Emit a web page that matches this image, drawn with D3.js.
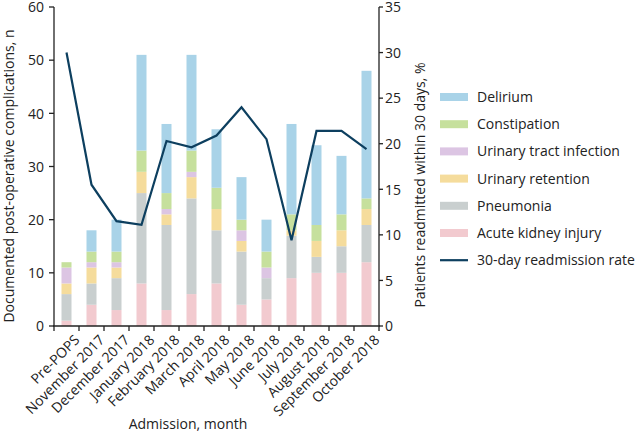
<!DOCTYPE html>
<html><head><meta charset="utf-8">
<script src="https://cdn.jsdelivr.net/npm/d3@7"></script>
<style>body{margin:0;background:#fff;} svg{display:block;} text{font-family:"Open Sans",sans-serif;fill:#222;}</style>
</head><body><svg id="c" width="639" height="432"></svg>
<script>
const categories = ["Pre-POPS","November 2017","December 2017","January 2018","February 2018","March 2018","April 2018","May 2018","June 2018","July 2018","August 2018","September 2018","October 2018"];
const acuteKidneyInjury = [1,4,3,8,3,6,8,4,5,9,10,10,12];
const pneumonia        = [5,4,6,17,16,18,10,10,4,8,3,5,7];
const urinaryRetention = [2,3,2,4,2,4,4,2,0,1,3,3,3];
const urinaryTractInfection = [3,1,1,0,1,1,0,2,2,0,0,0,0];
const constipation     = [1,2,2,4,3,4,4,2,3,3,3,3,2];
const delirium         = [0,4,6,18,13,18,11,8,6,17,15,11,24];
const readmissionRate  = [30,15.5,11.5,11.1,20.3,19.6,20.9,24.0,20.5,9.4,21.4,21.4,19.4];
const leftTicks = [0,10,20,30,40,50,60];
const rightTicks = [0,5,10,15,20,25,30,35];

const seriesNames = ["Acute kidney injury","Pneumonia","Urinary retention","Urinary tract infection","Constipation","Delirium"];
const seriesData = [acuteKidneyInjury,pneumonia,urinaryRetention,urinaryTractInfection,constipation,delirium];
const colors = ["#f2cacf","#c9cfcf","#f5dc9c","#dcc5e3","#c6e09d","#a9d3e8"];
const lineColor = "#0d3f5f";
const FS = 14;

const svg = d3.select("#c");
const L=54, R=379, T=7, B=326;
const xb = d3.scaleBand().domain(categories).range([L,R]);
const yL = d3.scaleLinear().domain([0,60]).range([B,T]);
const yR = d3.scaleLinear().domain([0,35]).range([B,T]);

const table = categories.map((c,i)=>{const o={cat:c}; seriesNames.forEach((s,j)=>o[s]=seriesData[j][i]); return o;});
const stack = d3.stack().keys(seriesNames)(table);
const bw = 10;
svg.append("g").selectAll("g").data(stack).join("g").attr("fill",(d,i)=>colors[i])
 .selectAll("rect").data(d=>d).join("rect")
 .attr("x",d=>xb(d.data.cat)+xb.bandwidth()/2-bw/2).attr("width",bw)
 .attr("y",d=>yL(d[1])).attr("height",d=>yL(d[0])-yL(d[1]));

// line
svg.append("path").datum(readmissionRate).attr("fill","none").attr("stroke",lineColor).attr("stroke-width",2.2)
 .attr("d",d3.line().x((d,i)=>xb(categories[i])+xb.bandwidth()/2).y(d=>yR(d)));

// axes
const ax = svg.append("g").attr("stroke","#222").attr("stroke-width",1.3);
ax.append("line").attr("x1",L).attr("x2",L).attr("y1",T).attr("y2",B);
ax.append("line").attr("x1",R).attr("x2",R).attr("y1",T).attr("y2",B);
ax.append("line").attr("x1",L-1).attr("x2",R+1).attr("y1",B).attr("y2",B);
leftTicks.forEach(t=>{
  ax.append("line").attr("x1",L-5).attr("x2",L).attr("y1",yL(t)).attr("y2",yL(t));
  svg.append("text").attr("x",L-10).attr("y",yL(t)).attr("dy","0.38em").attr("text-anchor","end").attr("font-size",FS).text(t);
});
rightTicks.forEach(t=>{
  ax.append("line").attr("x1",R).attr("x2",R+4).attr("y1",yR(t)).attr("y2",yR(t));
  svg.append("text").attr("x",R+6).attr("y",yR(t)).attr("dy","0.38em").attr("text-anchor","start").attr("font-size",FS).text(t);
});
const bounds = categories.map(c=>xb(c)).concat([R]);
bounds.forEach(b=>ax.append("line").attr("x1",b).attr("x2",b).attr("y1",B).attr("y2",B+5));

categories.forEach(c=>{
  const cx = xb(c)+xb.bandwidth()/2;
  svg.append("text").attr("text-anchor","end").attr("font-size",FS)
   .attr("transform",`translate(${cx+7},${B+8}) rotate(-45)`).attr("dy","0.7em").text(c);
});

svg.append("text").attr("x",188).attr("y",429).attr("text-anchor","middle").attr("font-size",FS).text("Admission, month");
svg.append("text").attr("transform",`translate(14,176) rotate(-90)`).attr("text-anchor","middle").attr("font-size",FS).text("Documented post-operative complications, n");
svg.append("text").attr("transform",`translate(425,185) rotate(-90)`).attr("text-anchor","middle").attr("font-size",FS).text("Patients readmitted within 30 days, %");

// legend
const legItems = [["Delirium",5],["Constipation",4],["Urinary tract infection",3],["Urinary retention",2],["Pneumonia",1],["Acute kidney injury",0]];
legItems.forEach((d,i)=>{
  const y = 97 + i*27.2;
  svg.append("rect").attr("x",440).attr("y",y-4).attr("width",28).attr("height",8).attr("fill",colors[d[1]]);
  svg.append("text").attr("x",477).attr("y",y).attr("dy","0.36em").attr("font-size",FS).text(d[0]);
});
const ly = 97 + 6*27.2;
svg.append("line").attr("x1",440).attr("x2",468).attr("y1",ly).attr("y2",ly).attr("stroke",lineColor).attr("stroke-width",2.2);
svg.append("text").attr("x",477).attr("y",ly).attr("dy","0.36em").attr("font-size",FS).text("30-day readmission rate");
</script></body></html>
